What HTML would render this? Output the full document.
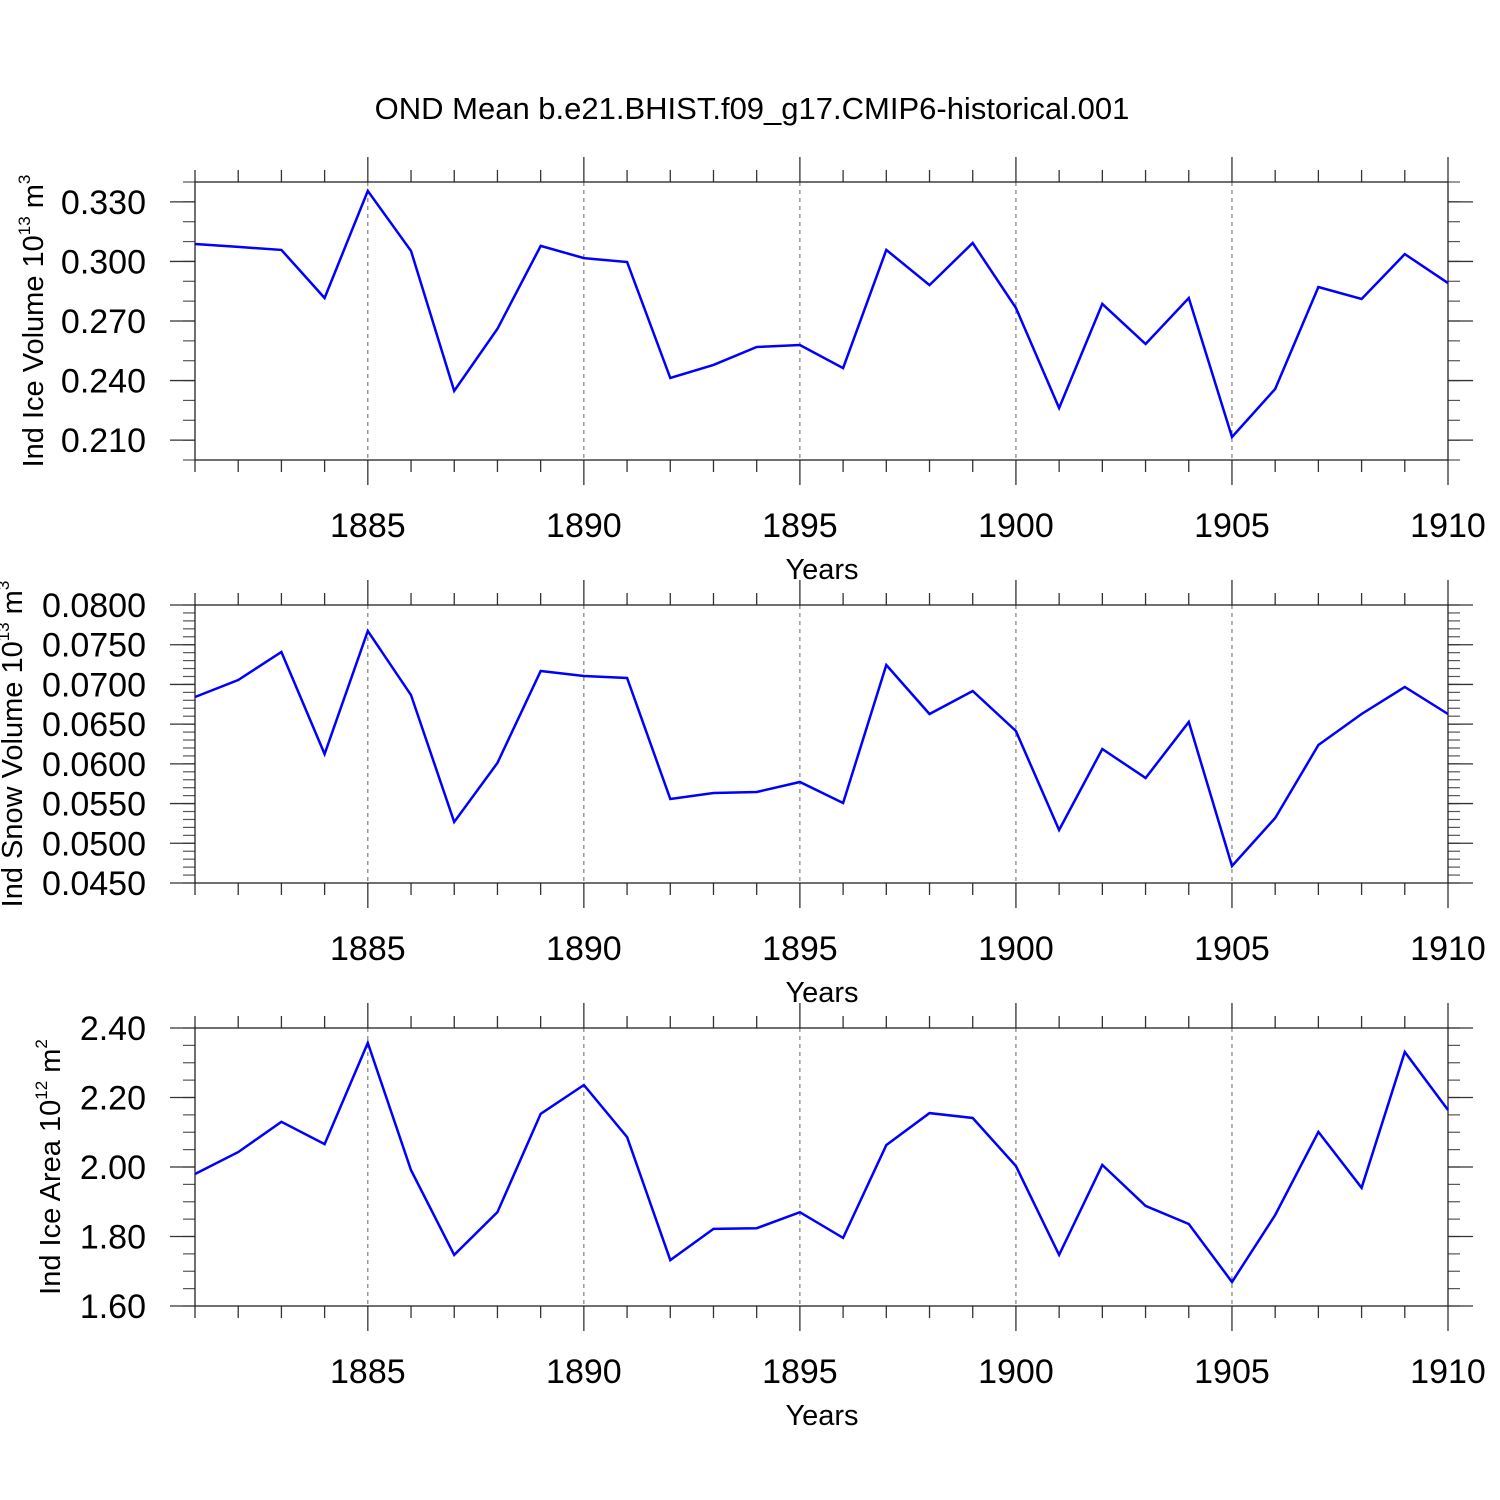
<!DOCTYPE html>
<html><head><meta charset="utf-8"><style>html,body{margin:0;padding:0;background:#fff}svg{display:block}</style></head>
<body>
<svg id="chart" width="1500" height="1500" xmlns="http://www.w3.org/2000/svg" font-family="Liberation Sans, Arial, sans-serif">
<rect width="1500" height="1500" fill="#fff"/>
<text x="752" y="119" font-size="31" text-anchor="middle">OND Mean b.e21.BHIST.f09_g17.CMIP6-historical.001</text>
</svg>
<script>
const years = [1881,1882,1883,1884,1885,1886,1887,1888,1889,1890,1891,1892,1893,1894,1895,1896,1897,1898,1899,1900,1901,1902,1903,1904,1905,1906,1907,1908,1909,1910];
const iceVolume = [0.3088,0.3073,0.3058,0.2816,0.3355,0.3053,0.2348,0.2660,0.3078,0.3017,0.2997,0.2413,0.2479,0.2569,0.2579,0.2463,0.3058,0.2881,0.3093,0.2766,0.2262,0.2786,0.2584,0.2816,0.2116,0.2358,0.2871,0.2811,0.3037,0.2891];
const snowVolume = [0.06842,0.07056,0.07408,0.06124,0.07673,0.06867,0.05268,0.06011,0.07169,0.07106,0.07081,0.05558,0.05633,0.05646,0.05772,0.05507,0.07245,0.06628,0.06917,0.06414,0.05167,0.06187,0.05822,0.06527,0.04714,0.05318,0.06237,0.06628,0.06968,0.06628];
const iceArea = [1.980,2.043,2.130,2.066,2.357,1.991,1.747,1.870,2.153,2.236,2.086,1.732,1.822,1.824,1.870,1.796,2.063,2.155,2.141,2.003,1.747,2.006,1.888,1.836,1.669,1.862,2.101,1.940,2.331,2.164];
const xTickYears = [1885,1890,1895,1900,1905,1910];
const iceVolumeTicks = ["0.210","0.240","0.270","0.300","0.330"];
const snowVolumeTicks = ["0.0450","0.0500","0.0550","0.0600","0.0650","0.0700","0.0750","0.0800"];
const iceAreaTicks = ["1.60","1.80","2.00","2.20","2.40"];

const NS="http://www.w3.org/2000/svg";
const svg=document.getElementById('chart');
function mk(tag,attrs,parent){const e=document.createElementNS(NS,tag);for(const k in attrs)e.setAttribute(k,attrs[k]);(parent||svg).appendChild(e);return e;}
const X0=195,X1=1448,XMIN=1881,XMAX=1910;
function xs(v){return X0+(v-XMIN)/(XMAX-XMIN)*(X1-X0);}

const panels=[
 {name:'ice-volume',top:182,bot:460,min:0.200,max:0.340,minor:0.01,data:iceVolume,ticks:iceVolumeTicks,title:['Ind Ice Volume 10','13',' m','3'],tx:33},
 {name:'snow-volume',top:605,bot:883,min:0.045,max:0.080,minor:0.001,data:snowVolume,ticks:snowVolumeTicks,title:['Ind Snow Volume 10','13',' m','3'],tx:12},
 {name:'ice-area',top:1028,bot:1306,min:1.60,max:2.40,minor:0.05,data:iceArea,ticks:iceAreaTicks,title:['Ind Ice Area 10','12',' m','2'],tx:50}
];
panels.forEach(p=>{
 const g=mk('g',{});
 
 
 const ys=v=>p.bot-(v-p.min)/(p.max-p.min)*(p.bot-p.top);
 xTickYears.forEach(yr=>{
  const l=mk('line',{x1:xs(yr),x2:xs(yr),y1:p.top,y2:p.bot,stroke:'#666','stroke-width':1,'stroke-dasharray':'4,4'},g);
  
  
 });
 for(let yr=XMIN;yr<=XMAX;yr++){
  const major=xTickYears.includes(yr);const L=major?25:12;
  mk('line',{x1:xs(yr),x2:xs(yr),y1:p.top-L,y2:p.top,stroke:'#333','stroke-width':1.3},g);
  mk('line',{x1:xs(yr),x2:xs(yr),y1:p.bot,y2:p.bot+L,stroke:'#333','stroke-width':1.3},g);
 }
 xTickYears.forEach(yr=>{
  const t=mk('text',{x:xs(yr),y:p.bot+77,'font-size':34,'text-anchor':'middle'},g);
  
  
  t.textContent=yr;
 });
 const xt=mk('text',{x:822,y:p.bot+119,'font-size':29,'text-anchor':'middle'},g);
 
 
 xt.textContent='Years';
 const n=Math.round((p.max-p.min)/p.minor);
 for(let i=0;i<=n;i++){
  const y=ys(p.min+i*p.minor);
  mk('line',{x1:X0-12,x2:X0,y1:y,y2:y,stroke:'#555','stroke-width':1.2},g);
  mk('line',{x1:X1,x2:X1+12,y1:y,y2:y,stroke:'#555','stroke-width':1.2},g);
 }
 p.ticks.forEach(s=>{
  const y=ys(parseFloat(s));
  mk('line',{x1:X0-25,x2:X0,y1:y,y2:y,stroke:'#333','stroke-width':1.3},g);
  mk('line',{x1:X1,x2:X1+25,y1:y,y2:y,stroke:'#333','stroke-width':1.3},g);
  const t=mk('text',{x:146,y:y+12,'font-size':34,'text-anchor':'end'},g);
  
  
  t.textContent=s;
 });
 const fr=mk('rect',{x:X0,y:p.top,width:X1-X0,height:p.bot-p.top,fill:'none',stroke:'#222','stroke-width':1.3},g);
 
 
 const cy=(p.top+p.bot)/2;
 const yt=mk('text',{x:0,y:0,'font-size':29,'text-anchor':'middle',transform:`translate(${p.tx+10},${cy}) rotate(-90)`},g);
 
 
 p.title.forEach((s,i)=>{
  const ts=mk('tspan',{},yt);
  if(i%2===1){ts.setAttribute('font-size','17');ts.setAttribute('dy','-13');}
  else if(i>0){ts.setAttribute('dy','13');}
  ts.textContent=s;
 });
 const pts=years.map((yr,i)=>xs(yr).toFixed(1)+','+ys(p.data[i]).toFixed(1)).join(' ');
 const pl=mk('polyline',{points:pts,fill:'none',stroke:'#0000ff','stroke-width':2.5,'stroke-linejoin':'miter'},g);
 
 
});
</script>
</body></html>
